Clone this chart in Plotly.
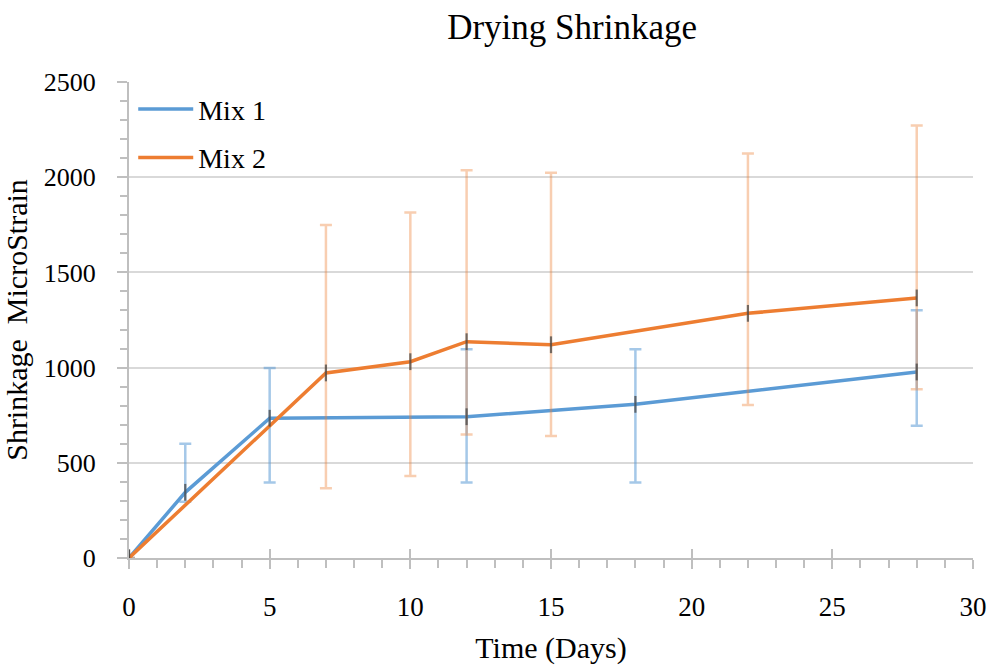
import plotly.graph_objects as go

# ---- data ----
mix1_days = [0, 2, 5, 12, 18, 28]
mix1_vals = [0, 345, 734, 742, 807, 977]
mix1_err_hi = [0, 600, 998, 1096, 1096, 1301]
mix1_err_lo = [0, 296, 396, 396, 396, 695]

mix2_days = [0, 7, 10, 12, 15, 22, 28]
mix2_vals = [0, 972, 1031, 1136, 1120, 1285, 1366]
mix2_err_hi = [0, 1749, 1814, 2036, 2024, 2125, 2271]
mix2_err_lo = [0, 366, 431, 648, 641, 804, 886]

x_ticks = [0, 5, 10, 15, 20, 25, 30]
y_ticks = [0, 500, 1000, 1500, 2000, 2500]

FONT = "Liberation Serif"
BLUE = "#5B9BD5"
ORANGE = "#ED7D31"

def plus(v, hi):
    return [h - x for x, h in zip(v, hi)]

def minus(v, lo):
    return [x - l for x, l in zip(v, lo)]

fig = go.Figure()

fig.add_trace(go.Scatter(
    x=mix1_days, y=mix1_vals, mode="lines", name="Mix 1",
    line=dict(color=BLUE, width=3.5), legendgroup="a",
    error_y=dict(type="data", symmetric=False,
                 array=plus(mix1_vals, mix1_err_hi),
                 arrayminus=minus(mix1_vals, mix1_err_lo),
                 color="rgba(91,155,213,0.55)", thickness=2.5, width=6),
))
fig.add_trace(go.Scatter(
    x=mix2_days, y=mix2_vals, mode="lines", name="Mix 2",
    line=dict(color=ORANGE, width=3.5), legendgroup="b",
    error_y=dict(type="data", symmetric=False,
                 array=plus(mix2_vals, mix2_err_hi),
                 arrayminus=minus(mix2_vals, mix2_err_lo),
                 color="rgba(237,125,49,0.38)", thickness=2.5, width=6),
))
for xs, ys in ((mix1_days, mix1_vals), (mix2_days, mix2_vals)):
    fig.add_trace(go.Scatter(
        x=xs, y=ys, mode="markers", showlegend=False, hoverinfo="skip",
        marker=dict(symbol="line-ns-open", size=12, color="rgba(70,70,70,0.75)",
                    line=dict(color="rgba(70,70,70,0.75)", width=2.2)),
    ))

# invisible trace on overlay axis to carry inside ticks
fig.add_trace(go.Scatter(x=[0, 30], y=[0, 0], xaxis="x2", mode="lines",
                         line=dict(width=0), showlegend=False, hoverinfo="skip"))

fig.update_layout(
    width=990, height=666,
    margin=dict(l=129, r=17, t=82, b=108),
    paper_bgcolor="white", plot_bgcolor="white",
    font=dict(family=FONT, size=26, color="#000000"),
    title=dict(text="Drying Shrinkage", font=dict(family=FONT, size=35, color="#000"),
               x=0.525, xref="paper", xanchor="center",
               y=1 - 27 / 666, yref="container", yanchor="middle"),
    showlegend=True,
    legend=dict(x=0.005, y=0.995, xanchor="left", yanchor="top",
                bgcolor="rgba(0,0,0,0)", font=dict(family=FONT, size=28),
                itemwidth=55, tracegroupgap=9, traceorder="grouped"),
    xaxis=dict(range=[0, 30], tickvals=x_ticks, showgrid=False, zeroline=False,
               automargin=False,
               showline=True, linecolor="#BFBFBF", linewidth=2,
               ticks="outside", ticklen=9, tickwidth=2, tickcolor="#BFBFBF",
               minor=dict(dtick=1, ticks="outside", ticklen=8, tickwidth=2,
                          tickcolor="#BFBFBF", showgrid=False),
               ticklabelstandoff=15,
               tickfont=dict(family=FONT, size=27),
               title=dict(text="Time (Days)", font=dict(family=FONT, size=30), standoff=16)),
    xaxis2=dict(range=[0, 30], overlaying="x", side="bottom", anchor="y",
                automargin=False,
                tickvals=x_ticks, ticks="inside", ticklen=9, tickwidth=2,
                tickcolor="#BFBFBF", showticklabels=False, showgrid=False,
                zeroline=False, showline=False),
    yaxis=dict(range=[0, 2500], tickvals=y_ticks, showgrid=True,
               automargin=False,
               gridcolor="#D9D9D9", gridwidth=2, zeroline=False,
               showline=True, linecolor="#BFBFBF", linewidth=2,
               ticks="outside", ticklen=10, tickwidth=2, tickcolor="#BFBFBF",
               minor=dict(dtick=100, ticks="outside", ticklen=7, tickwidth=2,
                          tickcolor="#BFBFBF", showgrid=False),
               ticklabelstandoff=16,
               tickfont=dict(family=FONT, size=26),
               title=dict(text="Shrinkage  MicroStrain", font=dict(family=FONT, size=30),
                          standoff=12)),
)

fig.write_html("out.html")
